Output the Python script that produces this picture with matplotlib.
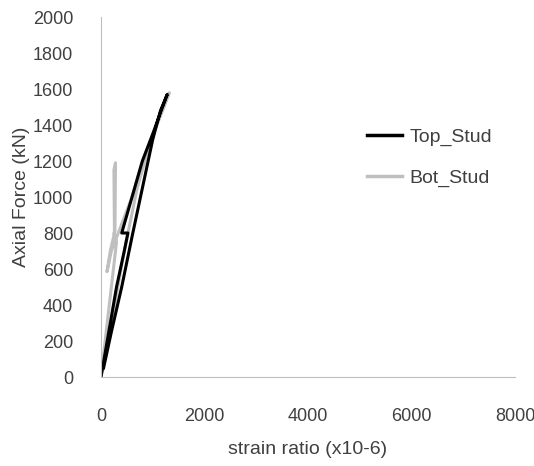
import matplotlib
matplotlib.use("Agg")
import matplotlib.pyplot as plt
from matplotlib.lines import Line2D

plt.rcParams['font.family'] = ['Liberation Sans', 'DejaVu Sans']

top_x = [0, 150, 300, 450, 520, 400, 450, 600, 800, 1000, 1150, 1280, 1150, 1000, 800, 600, 400, 200, 50]
top_y = [0, 250, 500, 700, 800, 800, 850, 1000, 1200, 1350, 1470, 1570, 1480, 1320, 1050, 780, 500, 250, 50]
bot_x = [0, 100, 200, 300, 250, 270, 280, 250, 260, 180, 115, 200, 400, 600, 800, 1000, 1150, 1320, 1150, 950, 700, 450, 200, 0]
bot_y = [0, 250, 500, 750, 800, 810, 1190, 1150, 800, 700, 585, 700, 850, 1000, 1200, 1350, 1450, 1580, 1460, 1300, 1050, 700, 300, 0]

fig = plt.figure(figsize=(5.34, 4.66), dpi=100)
ax = fig.add_axes([101/534, 1-377/466, 414/534, 360/466])
ax.plot(bot_x, bot_y, color="#bfbfbf", lw=2.2)
ax.plot(top_x, top_y, color="black", lw=2.2)
ax.set_xlim(0, 8000)
ax.set_ylim(0, 2000)
ax.set_xticks(range(0, 8001, 2000))
ax.set_yticks(range(0, 2001, 200))
for s in ["top", "right"]:
    ax.spines[s].set_visible(False)
for s in ["left", "bottom"]:
    ax.spines[s].set_color("#bfbfbf")
ax.tick_params(length=0, labelsize=13, colors="#404040")
ax.tick_params(axis="x", pad=22)
ax.tick_params(axis="y", pad=20)
ax.set_xlabel("strain ratio (x10-6)", fontsize=14, color="#404040", labelpad=12)
ax.set_ylabel("Axial Force (kN)", fontsize=14, color="#404040", labelpad=2)
handles = [Line2D([], [], color="black", lw=2.5), Line2D([], [], color="#bfbfbf", lw=2.5)]
ax.legend(handles, ["Top_Stud", "Bot_Stud"], loc="upper left", bbox_to_anchor=(0.6, 0.74),
          frameon=False, fontsize=14, labelcolor="#404040", labelspacing=1.2, handlelength=1.8,
          handletextpad=0.4)
fig.savefig("out.png")
